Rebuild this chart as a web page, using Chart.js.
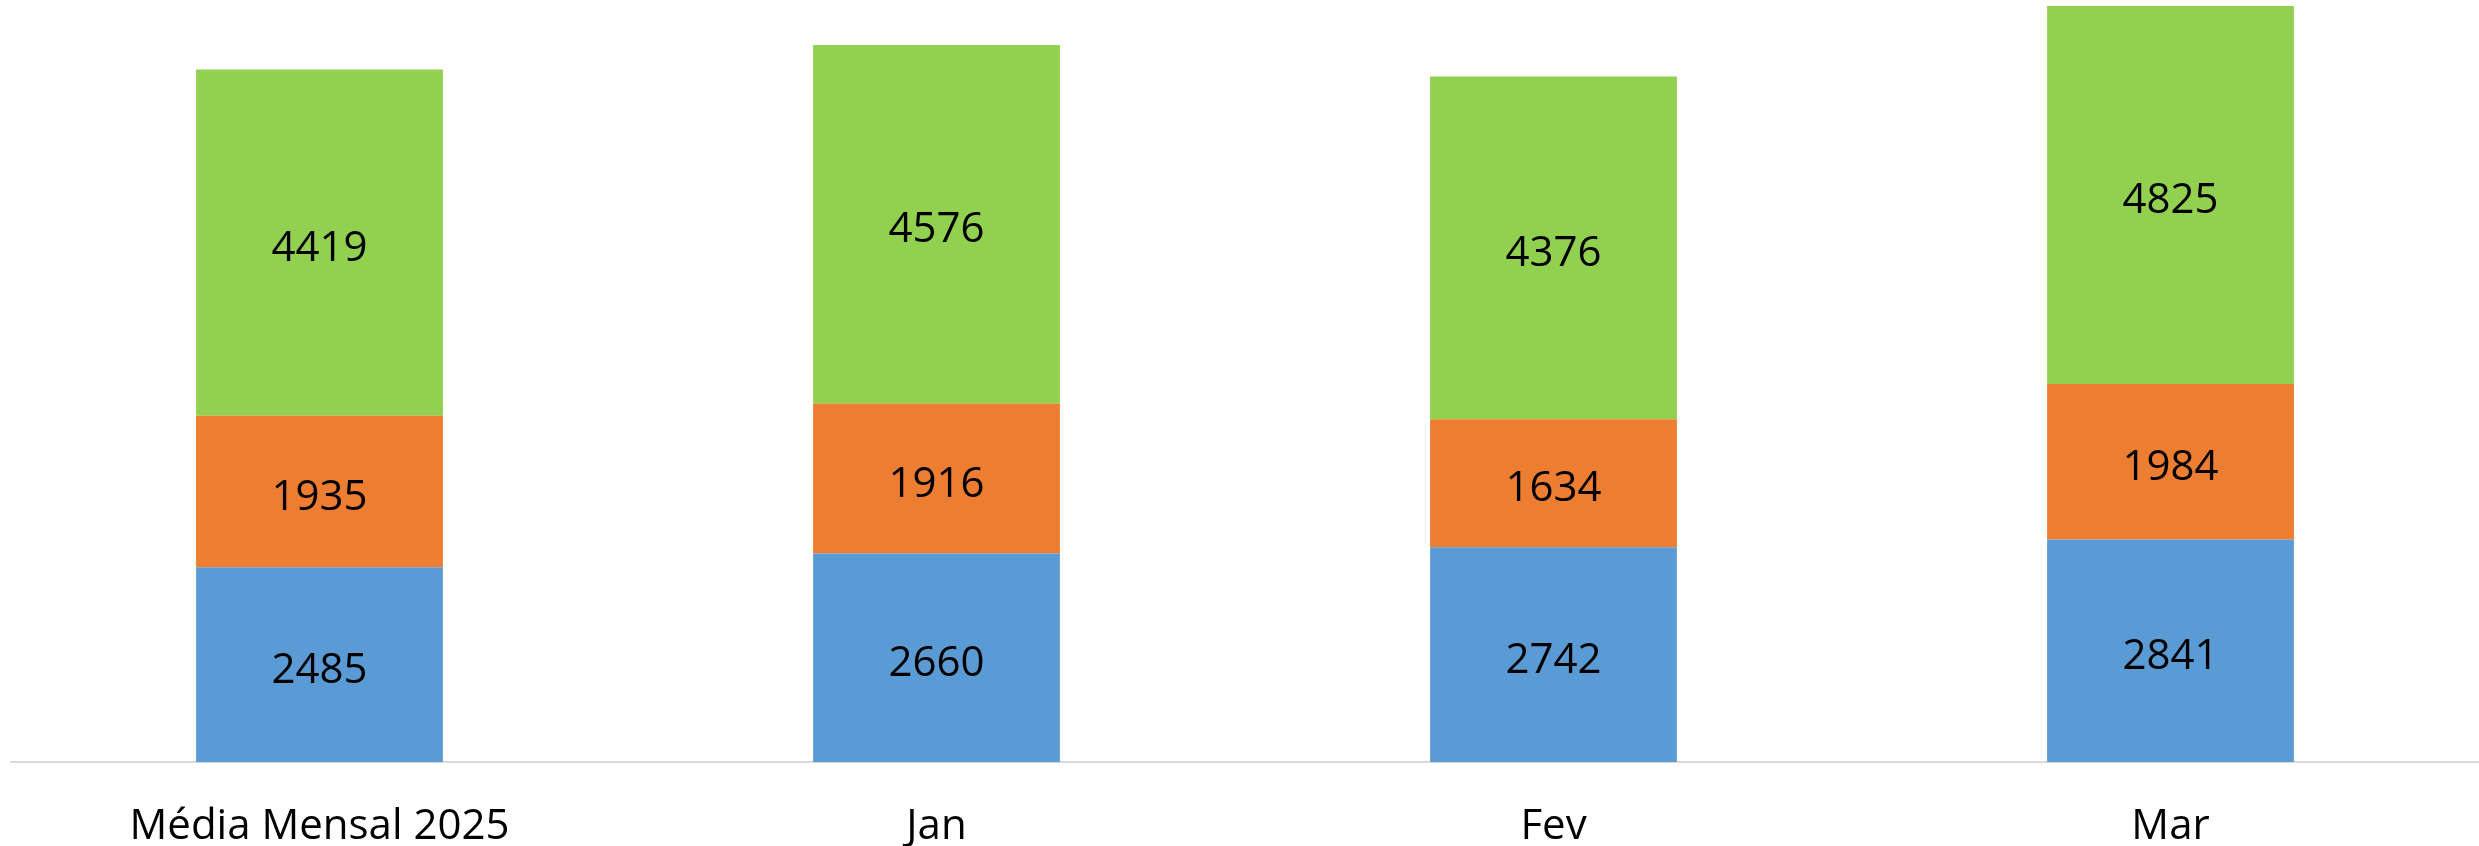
<!DOCTYPE html>
<html>
<head>
<meta charset="utf-8">
<script src="https://cdn.jsdelivr.net/npm/chart.js@4"></script>
<style>
  html, body { margin: 0; padding: 0; background: #ffffff; }
  #wrap { width: 2479px; height: 846px; position: relative; }
</style>
</head>
<body>
<div id="wrap"><canvas id="c" width="2479" height="846"></canvas></div>
<script>
const categories = ["Média Mensal 2025", "Jan", "Fev", "Mar"];
const serieAzul = [2485, 2660, 2742, 2841];
const serieLaranja = [1935, 1916, 1634, 1984];
const serieVerde = [4419, 4576, 4376, 4825];
const yMax = 9727;

const labelPlugin = {
  id: 'segLabels',
  afterDatasetsDraw(chart) {
    const ctx = chart.ctx;
    ctx.save();
    ctx.font = '42px "Open Sans"';
    ctx.fillStyle = '#000000';
    ctx.textAlign = 'center';
    ctx.textBaseline = 'middle';
    chart.data.datasets.forEach((ds, di) => {
      const meta = chart.getDatasetMeta(di);
      meta.data.forEach((bar, i) => {
        const y = (bar.y + bar.base) / 2 + 6;
        ctx.fillText(String(ds.data[i]), bar.x, y);
      });
    });
    ctx.restore();
  }
};

new Chart(document.getElementById('c'), {
  type: 'bar',
  data: {
    labels: categories,
    datasets: [
      { label: 'Azul', data: serieAzul, backgroundColor: '#5B9BD5' },
      { label: 'Laranja', data: serieLaranja, backgroundColor: '#ED7D31' },
      { label: 'Verde', data: serieVerde, backgroundColor: '#92D050' }
    ]
  },
  options: {
    responsive: false,
    animation: false,
    devicePixelRatio: 1,
    layout: { padding: { left: 11, right: 0, top: 0, bottom: 0 } },
    datasets: { bar: { categoryPercentage: 1, barPercentage: 0.4, borderWidth: 0 } },
    plugins: { legend: { display: false }, tooltip: { enabled: false } },
    scales: {
      x: {
        stacked: true,
        grid: { display: false, drawTicks: false },
        border: { display: true, color: '#d9d9d9', width: 2 },
        ticks: { color: '#000000', font: { family: 'Open Sans', size: 42 }, padding: 40, maxRotation: 0 },
        afterFit(scale) { scale.height = 84; }
      },
      y: {
        stacked: true,
        display: false,
        min: 0,
        max: yMax
      }
    }
  },
  plugins: [labelPlugin]
});
</script>
</body>
</html>
